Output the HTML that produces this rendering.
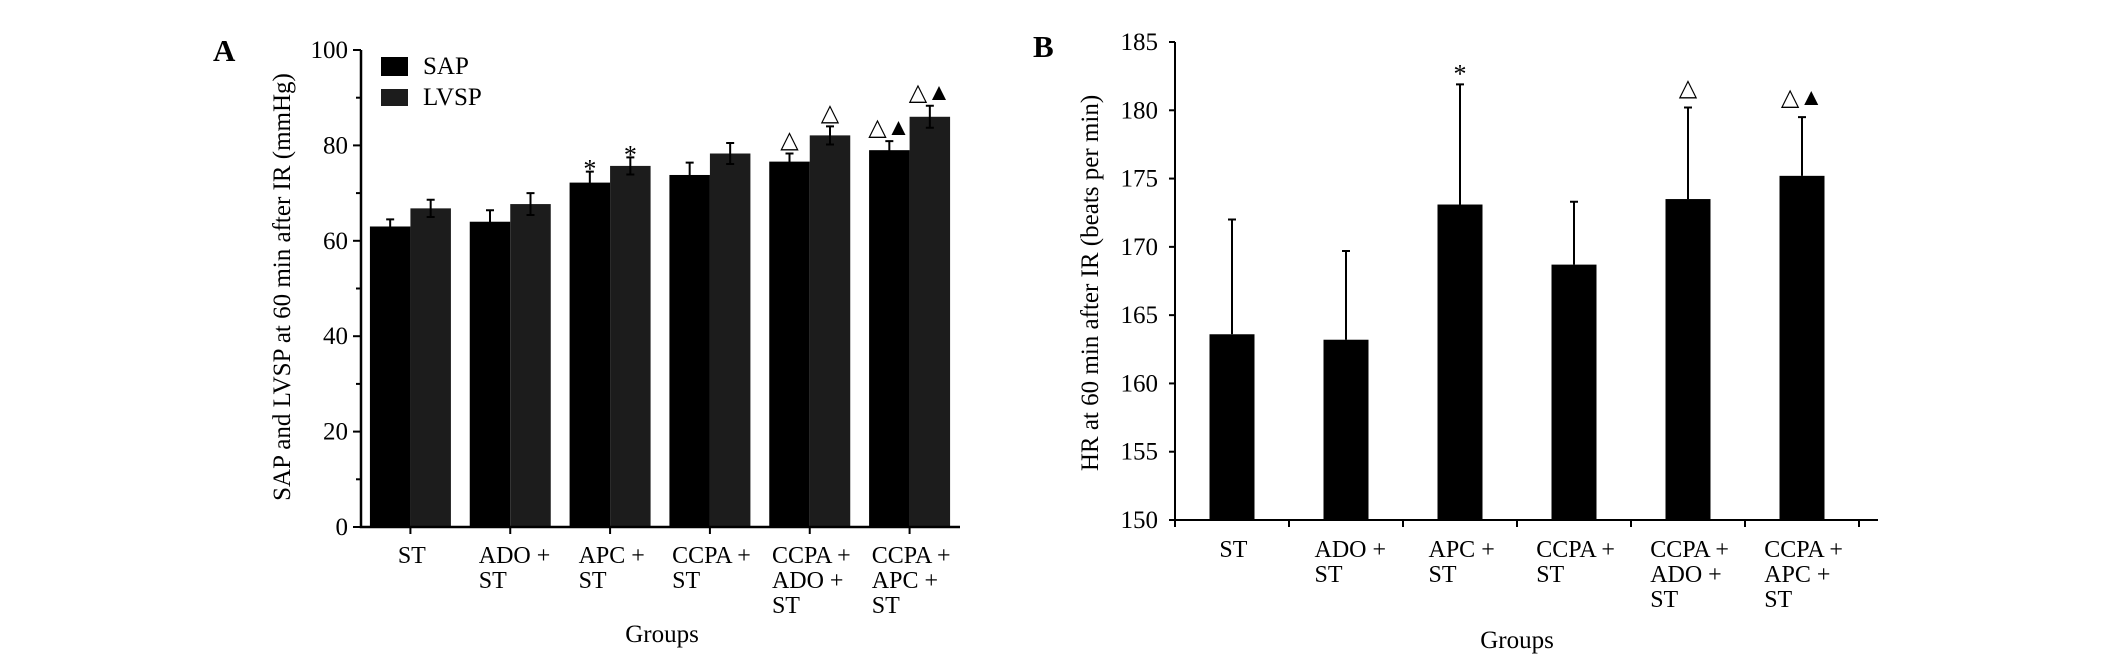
<!DOCTYPE html>
<html><head><meta charset="utf-8">
<style>
html,body{margin:0;padding:0;background:#fff;}
svg{display:block;font-family:"Liberation Serif",serif;}
</style></head>
<body>
<svg id="fig" width="2126" height="665" viewBox="0 0 2126 665" xmlns="http://www.w3.org/2000/svg"></svg>
<script>
const groupLines = [["ST"],["ADO +","ST"],["APC +","ST"],["CCPA +","ST"],["CCPA +","ADO +","ST"],["CCPA +","APC +","ST"]];
const sapValues = [63, 64, 72.2, 73.8, 76.6, 79];
const sapErr = [1.5, 2.4, 2.3, 2.6, 1.7, 1.9];
const lvspValues = [66.8, 67.7, 75.7, 78.3, 82.1, 86.0];
const lvspErr = [1.8, 2.3, 1.8, 2.2, 1.9, 2.3];
const sapMarks = ["", "", "*", "", "\u25B3", "\u25B3\u25B2"];
const lvspMarks = ["", "", "*", "", "\u25B3", "\u25B3\u25B2"];
const aTicks = [0, 20, 40, 60, 80, 100];
const hrValues = [163.6, 163.2, 173.1, 168.7, 173.5, 175.2];
const hrErr = [8.4, 6.5, 8.8, 4.6, 6.7, 4.3];
const hrMarks = ["", "", "*", "", "\u25B3", "\u25B3\u25B2"];
const bTicks = [150, 155, 160, 165, 170, 175, 180, 185];

const NS = "http://www.w3.org/2000/svg";
const svg = document.getElementById('fig');
function el(tag, attrs, parent, text) {
  const e = document.createElementNS(NS, tag);
  for (const k in attrs) e.setAttribute(k, attrs[k]);
  if (text !== undefined) e.textContent = text;
  (parent || svg).appendChild(e);
  return e;
}

// ---------- Chart A ----------
const gA = el('g', {});


const ax0 = 361, ax1 = 960, ay0 = 527, ay1 = 50;
const yA = v => ay0 + (ay1 - ay0) * (v - 0) / 100;
const gap = (ax1 - ax0) / 6;
const cA = i => ax0 + gap * (i + 0.5) - 0.5;
const bwA = 40.5;

let t = el('text', {x: 213, y: 61, 'font-size': 31, 'font-weight': 'bold'}, gA, 'A');



for (let i = 0; i < 6; i++) {
  const c = cA(i);
  let r = el('rect', {x: c - bwA, y: yA(sapValues[i]), width: bwA, height: ay0 - yA(sapValues[i]), fill: '#000'}, gA);
  
  
  r = el('rect', {x: c, y: yA(lvspValues[i]), width: bwA, height: ay0 - yA(lvspValues[i]), fill: '#1c1c1c'}, gA);
  
  
  [[c - bwA / 2, sapValues[i], sapErr[i], sapMarks[i], 'sap'], [c + bwA / 2, lvspValues[i], lvspErr[i], lvspMarks[i], 'lvsp']].forEach(([x, v, e, m, n]) => {
    const eb = el('path', {d: `M${x},${yA(v - e)}V${yA(v + e)}M${x - 4},${yA(v + e)}H${x + 4}M${x - 4},${yA(v - e)}H${x + 4}`, stroke: '#000', 'stroke-width': 2, fill: 'none'}, gA);
    
    
    if (m) {
      const mt = el('text', {x: x, y: yA(v + e) - (m === '*' ? -6 : 6), 'font-size': m === '*' ? 26 : 24, 'text-anchor': 'middle'}, gA, m);
      
      
    }
  });
  const gl = el('text', {'font-size': 24}, gA);
  
  
  const maxLen = Math.max(...groupLines[i].map(s => s.length));
  const left = c - maxLen * 6.3;
  groupLines[i].forEach((s, j) => el('tspan', {x: left, y: 563 + j * 25}, gl, s));
  el('line', {x1: c, y1: ay0, x2: c, y2: ay0 + 7, stroke: '#000', 'stroke-width': 2}, gA);
}
let ax = el('path', {d: `M${ax0},${ay1}V${ay0}H${ax1}`, stroke: '#000', 'stroke-width': 2.5, fill: 'none'}, gA);


for (let v = 0; v <= 100; v += 10) {
  el('line', {x1: ax0 - (v % 20 === 0 ? 8 : 5), y1: yA(v), x2: ax0, y2: yA(v), stroke: '#000', 'stroke-width': 2}, gA);
}
aTicks.forEach(v => {
  const tl = el('text', {x: 348, y: yA(v) + 8, 'font-size': 25, 'text-anchor': 'end'}, gA, String(v));
  
  
});
t = el('text', {x: 0, y: 0, 'font-size': 25, 'text-anchor': 'middle', transform: 'translate(290,287) rotate(-90)'}, gA, 'SAP and LVSP at 60 min after IR (mmHg)');


t = el('text', {x: 662, y: 642, 'font-size': 25, 'text-anchor': 'middle'}, gA, 'Groups');


// legend
let lg = el('rect', {x: 381, y: 57, width: 27, height: 19, fill: '#000'}, gA);


lg = el('rect', {x: 381, y: 89, width: 27, height: 17, fill: '#1c1c1c'}, gA);


t = el('text', {x: 423, y: 74, 'font-size': 25}, gA, 'SAP');


t = el('text', {x: 423, y: 105, 'font-size': 25}, gA, 'LVSP');



// ---------- Chart B ----------
const gB = el('g', {});


const bx0 = 1175, bx1 = 1878, by0 = 520, by1 = 42;
const yB = v => by0 + (by1 - by0) * (v - 150) / 35;
const gapB = 114;
const cB = i => bx0 + gapB * (i + 0.5);
const bwB = 45;
t = el('text', {x: 1033, y: 57, 'font-size': 31, 'font-weight': 'bold'}, gB, 'B');


for (let i = 0; i < 6; i++) {
  const c = cB(i);
  const r = el('rect', {x: c - bwB / 2, y: yB(hrValues[i]), width: bwB, height: by0 - yB(hrValues[i]), fill: '#000'}, gB);
  
  
  const top = yB(hrValues[i] + hrErr[i]);
  const eb = el('path', {d: `M${c},${yB(hrValues[i])}V${top}M${c - 4},${top}H${c + 4}`, stroke: '#000', 'stroke-width': 2, fill: 'none'}, gB);
  
  
  if (hrMarks[i]) {
    const m = hrMarks[i];
    const mt = el('text', {x: c, y: top - (m === '*' ? 2 : 12), 'font-size': m === '*' ? 26 : 24, 'text-anchor': 'middle'}, gB, m);
    
    
  }
  const gl = el('text', {'font-size': 24}, gB);
  
  
  const maxLen = Math.max(...groupLines[i].map(s => s.length));
  const left = c - maxLen * 6.3;
  groupLines[i].forEach((s, j) => el('tspan', {x: left, y: 557 + j * 25}, gl, s));
}
for (let i = 0; i <= 6; i++) {
  el('line', {x1: bx0 + gapB * i, y1: by0, x2: bx0 + gapB * i, y2: by0 + 7, stroke: '#000', 'stroke-width': 2}, gB);
}
ax = el('path', {d: `M${bx0},${by1}V${by0}H${bx1}`, stroke: '#000', 'stroke-width': 2, fill: 'none'}, gB);


bTicks.forEach(v => {
  el('line', {x1: bx0 - 6, y1: yB(v), x2: bx0, y2: yB(v), stroke: '#000', 'stroke-width': 2}, gB);
  const tl = el('text', {x: 1158, y: yB(v) + 8, 'font-size': 25, 'text-anchor': 'end'}, gB, String(v));
  
  
});
t = el('text', {x: 0, y: 0, 'font-size': 25, 'text-anchor': 'middle', transform: 'translate(1098,283) rotate(-90)'}, gB, 'HR at 60 min after IR (beats per min)');


t = el('text', {x: 1517, y: 648, 'font-size': 25, 'text-anchor': 'middle'}, gB, 'Groups');


</script>
</body></html>
